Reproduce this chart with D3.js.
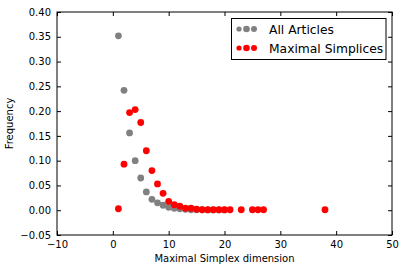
<!DOCTYPE html>
<html>
<head>
<meta charset="utf-8">
<script src="https://cdn.jsdelivr.net/npm/d3@7"></script>
<style>
  body { margin: 0; background: #fff; }
  text { font-family: "DejaVu Sans", sans-serif; }
</style>
</head>
<body>
<svg id="chart" width="405" height="271"></svg>
<script>
// data
const allDims = [1, 2, 3, 4, 5, 6, 7, 8, 9, 10, 11, 12, 13, 14, 15, 16, 17, 18, 19, 20]
const allFreq = [0.352, 0.242, 0.156, 0.100, 0.065, 0.037, 0.022, 0.015, 0.010, 0.006, 0.004, 0.003, 0.002, 0.001, 0.001, 0.001, 0.0005, 0.0005, 0.0005, 0.0005]
const maxDims = [1, 2, 3, 4, 5, 6, 7, 8, 9, 10, 11, 12, 13, 14, 15, 16, 17, 18, 19, 20, 21, 23, 25, 26, 27, 38]
const maxFreq = [0.003, 0.093, 0.197, 0.203, 0.177, 0.120, 0.080, 0.053, 0.034, 0.018, 0.011, 0.008, 0.004, 0.004, 0.002, 0.001, 0.001, 0.001, 0.001, 0.001, 0.001, 0.001, 0.001, 0.001, 0.001, 0.001]
const xTicks = [-10, 0, 10, 20, 30, 40, 50]
const yTicks = [-0.05, 0, 0.05, 0.10, 0.15, 0.20, 0.25, 0.30, 0.35, 0.40]
const seriesNames = ["All Articles", "Maximal Simplices"]
const seriesColors = ["#808080", "#ff0000"]

const svg = d3.select("#chart")
const L = 57, R = 392, T = 12, B = 235

let x = d3.scaleLinear().domain([-10, 50]).range([L, R])
let y = d3.scaleLinear().domain([-0.05, 0.40]).range([B, T])

const fmtY = d => (d < 0 ? "\u22120.05" : d3.format(".2f")(d))
const fmtX = d => (d < 0 ? "\u2212" + Math.abs(d) : String(d))

// axes with inward ticks, matplotlib classic look
svg.append("g").attr("transform", `translate(0,${B})`)
    .call(d3.axisBottom(x).tickValues(xTicks).tickSize(-4).tickPadding(6).tickFormat(fmtX))
svg.append("g").attr("transform", `translate(0,${T})`)
    .call(d3.axisTop(x).tickValues(xTicks).tickSize(-4).tickFormat(""))
svg.append("g").attr("transform", `translate(${L},0)`)
    .call(d3.axisLeft(y).tickValues(yTicks).tickSize(-4).tickPadding(6).tickFormat(fmtY))
svg.append("g").attr("transform", `translate(${R},0)`)
    .call(d3.axisRight(y).tickValues(yTicks).tickSize(-4).tickFormat(""))

svg.selectAll(".domain").remove()
svg.selectAll(".tick line").attr("stroke", "#000")
svg.selectAll(".tick text").attr("font-size", 10).attr("fill", "#000")
    .style("font-family", "DejaVu Sans, sans-serif")

svg.append("rect")
    .attr("x", L).attr("y", T).attr("width", R - L).attr("height", B - T)
    .attr("fill", "none").attr("stroke", "#000").attr("stroke-width", 1)

const plot = svg.append("g")
plot.selectAll("circle.all")
    .data(allDims.map((d, i) => [d, allFreq[i]]))
    .join("circle").attr("class", "all")
    .attr("cx", d => x(d[0])).attr("cy", d => y(d[1])).attr("r", 3.4)
    .attr("fill", seriesColors[0])
plot.selectAll("circle.max")
    .data(maxDims.map((d, i) => [d, maxFreq[i]]))
    .join("circle").attr("class", "max")
    .attr("cx", d => x(d[0])).attr("cy", d => y(d[1])).attr("r", 3.4)
    .attr("fill", seriesColors[1])

// labels
svg.append("text").attr("x", (L + R) / 2).attr("y", 262)
    .attr("text-anchor", "middle").attr("font-size", 10).text("Maximal Simplex dimension")
svg.append("text").attr("transform", `translate(13,${(T + B) / 2}) rotate(-90)`)
    .attr("text-anchor", "middle").attr("font-size", 10).text("Frequency")

// legend
const lg = svg.append("g")
lg.append("rect").attr("x", 231.5).attr("y", 18.5).attr("width", 154.5).attr("height", 41)
    .attr("fill", "#fff").attr("stroke", "#000")
const sizes = [2.6, 3.3, 3.0]
seriesNames.forEach((name, i) => {
    const cy = 29 + i * 19
    sizes.forEach((r, k) => {
        lg.append("circle").attr("cx", 239 + k * 7.5).attr("cy", cy).attr("r", r)
            .attr("fill", seriesColors[i])
    })
    lg.append("text").attr("x", 269).attr("y", cy + 4.5).attr("font-size", 12.3).text(name)
})
</script>
</body>
</html>
